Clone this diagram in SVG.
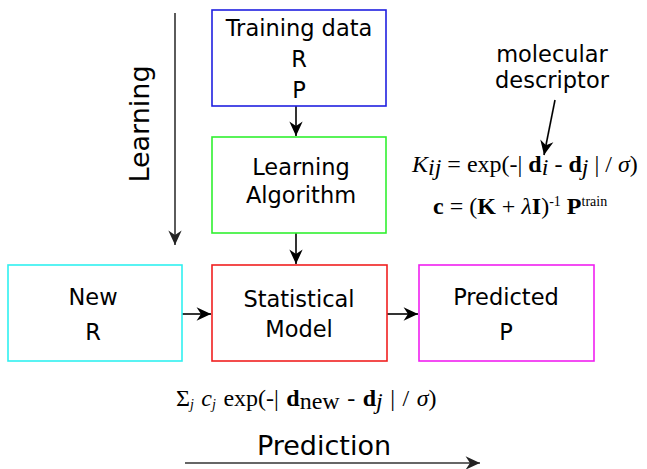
<svg xmlns="http://www.w3.org/2000/svg" width="647" height="469" viewBox="0 0 647 469">
<style>
.box{fill:#fff;stroke-width:1.6}
.lbl{font-family:"DejaVu Sans",sans-serif;font-size:22.5px;fill:#000;text-anchor:middle}
.big{font-family:"DejaVu Sans",sans-serif;font-size:27px;fill:#000;text-anchor:middle}
.math{font-family:"Liberation Serif","Times New Roman",serif;font-size:24px;fill:#000}
.ws{word-spacing:1.5px}
.b{font-weight:bold}
.i{font-style:italic}
.sm{font-size:14px}
.con{stroke:#000;stroke-width:1.6;fill:none}
.axis{stroke:#333;stroke-width:1.6;fill:none}
</style>
<defs>
<marker id="ah" markerUnits="userSpaceOnUse" markerWidth="20" markerHeight="20" refX="0" refY="0" viewBox="-16 -8 18 16" orient="auto" overflow="visible">
<path d="M0,0 L-13,-6 L-9,0 L-13,6 Z" fill="#000"/>
</marker>
<marker id="ahg" markerUnits="userSpaceOnUse" markerWidth="20" markerHeight="20" refX="0" refY="0" viewBox="-16 -8 18 16" orient="auto" overflow="visible">
<path d="M0,0 L-13,-6 L-9,0 L-13,6 Z" fill="#222"/>
</marker>
</defs>
<rect width="647" height="469" fill="#fff"/>
<g id="connectors">
<line class="con" x1="296" y1="106" x2="296" y2="136" marker-end="url(#ah)"/>
<line class="con" x1="296" y1="233" x2="296" y2="264" marker-end="url(#ah)"/>
<line class="con" x1="182" y1="314" x2="211" y2="314" marker-end="url(#ah)"/>
<line class="con" x1="387" y1="314" x2="418" y2="314" marker-end="url(#ah)"/>
<line class="con" x1="555" y1="100" x2="544" y2="155" marker-end="url(#ah)"/>
</g>
<g id="learning-axis">
<line class="axis" x1="175" y1="13" x2="175" y2="245" marker-end="url(#ahg)"/>
<text class="big" transform="translate(149,124) rotate(-90)">Learning</text>
</g>
<g id="prediction-axis">
<line class="axis" x1="185" y1="463" x2="480" y2="463" marker-end="url(#ahg)"/>
<text class="big" x="324" y="455">Prediction</text>
</g>
<g id="training-data">
<rect class="box" x="212" y="10" width="174" height="96" stroke="#2020e0"/>
<text class="lbl" x="299" y="36">Training data</text>
<text class="lbl" x="299" y="67">R</text>
<text class="lbl" x="299" y="98">P</text>
</g>
<g id="learning-algorithm">
<rect class="box" x="212" y="137" width="174" height="96" stroke="#30f030"/>
<text class="lbl" x="301" y="175">Learning</text>
<text class="lbl" x="301" y="203">Algorithm</text>
</g>
<g id="new-r">
<rect class="box" x="8" y="265" width="174" height="96" stroke="#30f0f0"/>
<text class="lbl" x="93" y="305">New</text>
<text class="lbl" x="93" y="340">R</text>
</g>
<g id="statistical-model">
<rect class="box" x="212" y="265" width="175" height="96" stroke="#f02020"/>
<text class="lbl" x="299" y="307">Statistical</text>
<text class="lbl" x="299" y="337">Model</text>
</g>
<g id="predicted-p">
<rect class="box" x="419" y="265" width="175" height="96" stroke="#f020f0"/>
<text class="lbl" x="506" y="305">Predicted</text>
<text class="lbl" x="506" y="340">P</text>
</g>
<g id="molecular-descriptor">
<text class="lbl" x="552" y="62">molecular</text>
<text class="lbl" x="552" y="88">descriptor</text>
</g>
<g id="formulas">
<text class="math" x="412" y="172"><tspan class="i">K</tspan><tspan class="i" dy="3">ij</tspan><tspan dy="-3"> = exp(-| </tspan><tspan class="b">d</tspan><tspan class="i" dy="3">i</tspan><tspan dy="-3"> - </tspan><tspan class="b">d</tspan><tspan class="i" dy="3">j</tspan><tspan dy="-3"> | / </tspan><tspan class="i">σ</tspan><tspan>)</tspan></text>
<text class="math" x="433" y="214"><tspan class="b">c</tspan><tspan> = (</tspan><tspan class="b">K</tspan><tspan> + </tspan><tspan class="i">λ</tspan><tspan class="b">I</tspan><tspan>)</tspan><tspan class="sm" dy="-8">-1</tspan><tspan dy="8"> </tspan><tspan class="b">P</tspan><tspan class="sm" dy="-8">train</tspan></text>
<text class="math ws" x="176" y="406"><tspan>Σ</tspan><tspan class="i sm" dy="3">j</tspan><tspan dy="-3"> </tspan><tspan class="i">c</tspan><tspan class="i sm" dy="3">j</tspan><tspan dy="-3"> exp(-| </tspan><tspan class="b">d</tspan><tspan dy="3">new</tspan><tspan dy="-3"> - </tspan><tspan class="b">d</tspan><tspan class="i" dy="3">j</tspan><tspan dy="-3"> | / </tspan><tspan class="i">σ</tspan><tspan>)</tspan></text>
</g>
</svg>
